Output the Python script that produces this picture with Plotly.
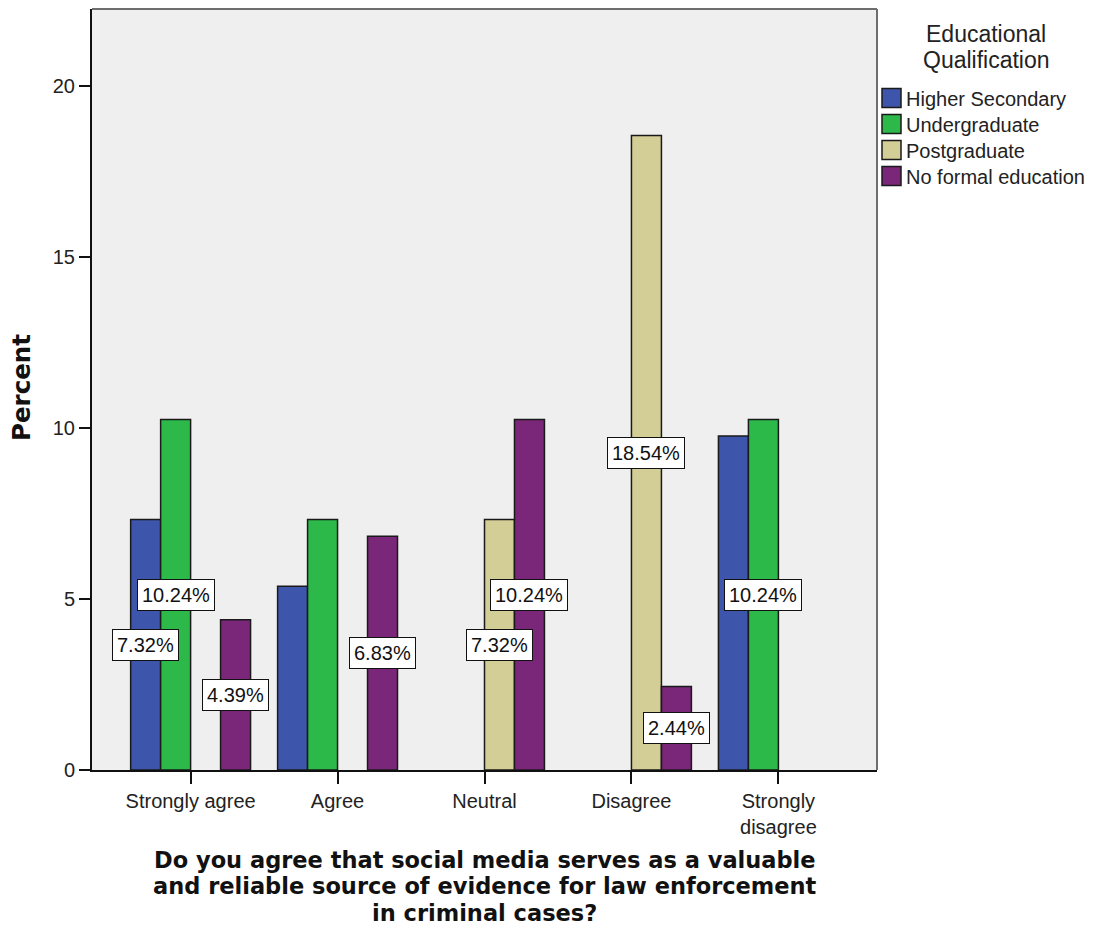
import plotly.graph_objects as go

# ---------------- data ----------------
categories = ["Strongly agree", "Agree", "Neutral", "Disagree", "Strongly<br>disagree"]
series_names = ["Higher Secondary", "Undergraduate", "Postgraduate", "No formal education"]
higher_secondary = [7.32, 5.37, None, None, 9.76]
undergraduate = [10.24, 7.32, None, None, 10.24]
postgraduate = [None, None, 7.32, 18.54, None]
no_formal = [4.39, 6.83, 10.24, 2.44, None]
# which bar labels are displayed (SPSS hid the overlapping ones)
hs_label_shown = [True, False, False, False, False]
ug_label_shown = [True, False, False, False, True]
pg_label_shown = [False, False, True, True, False]
nfe_label_shown = [True, True, True, True, False]
y_ticks = [0, 5, 10, 15, 20]
x_title_lines = ["Do you agree that social media serves as a valuable",
                 "and reliable source of evidence for law enforcement",
                 "in criminal cases?"]
y_title = "Percent"
legend_title_lines = ["Educational", "Qualification"]

# ---------------- style ----------------
colors = ["#3d56ab", "#2db84a", "#d3cd96", "#7b2779"]
BG = "#efefef"
TICK_FONT = "Liberation Sans, Arial, sans-serif"
BOLD_FONT = "DejaVu Sans, Verdana, sans-serif"
OFF = 8                      # default body margin of the html page
W, H = 1096 - 2 * OFF, 934 - 2 * OFF
PLOT_L, PLOT_R, PLOT_T, PLOT_B = 92, 877, 9, 770   # target page pixels
ML, MT = PLOT_L - OFF, PLOT_T - OFF
MR, MB = W - (PLOT_R - OFF), H - (PLOT_B - OFF)
PW, PH = PLOT_R - PLOT_L, PLOT_B - PLOT_T
BARGAP = 0.184

def px_x(px):
    return (px - PLOT_L) / PW

def px_y(py):
    return (PLOT_B - py) / PH

all_values = [higher_secondary, undergraduate, postgraduate, no_formal]
all_shown = [hs_label_shown, ug_label_shown, pg_label_shown, nfe_label_shown]

fig = go.Figure()
for name, vals, col in zip(series_names, all_values, colors):
    fig.add_trace(go.Bar(
        x=list(range(len(categories))), y=vals, name=name,
        marker=dict(color=col, line=dict(color="#1a1a1a", width=1.5)),
        showlegend=False, hoverinfo="x+y+name",
    ))

annotations = []
n = len(series_names)
slot = (1 - BARGAP) / n
for i, (vals, shown) in enumerate(zip(all_values, all_shown)):
    for c, (v, s) in enumerate(zip(vals, shown)):
        if v is None or not s:
            continue
        annotations.append(dict(
            x=c + (i - (n - 1) / 2) * slot, y=v / 2, xref="x", yref="y",
            text=f"{v:.2f}%", showarrow=False, xanchor="center", yanchor="middle",
            font=dict(family=TICK_FONT, size=20, color="#111"),
            bgcolor="white", bordercolor="#111", borderwidth=1, borderpad=4,
        ))

# x axis title lines (tight SPSS-like line spacing)
for line, py in zip(x_title_lines, [860, 886.3, 912.6]):
    annotations.append(dict(
        x=0.5, y=px_y(py), xref="paper", yref="paper", text=f"<b>{line}</b>",
        showarrow=False, xanchor="center", yanchor="middle",
        font=dict(family=BOLD_FONT, size=22.5, color="#111"),
    ))

# y axis title
annotations.append(dict(
    x=px_x(22), y=px_y(388), xref="paper", yref="paper", text=f"<b>{y_title}</b>",
    showarrow=False, xanchor="center", yanchor="middle", textangle=-90,
    font=dict(family=BOLD_FONT, size=24.5, color="#111"),
))

# legend title
for line, py in zip(legend_title_lines, [34, 60]):
    annotations.append(dict(
        x=px_x(986), y=px_y(py), xref="paper", yref="paper", text=line,
        showarrow=False, xanchor="center", yanchor="middle",
        font=dict(family=TICK_FONT, size=23, color="#222"),
    ))

shapes = []
# legend entries
for i, (name, col) in enumerate(zip(series_names, colors)):
    top = 88.5 + 26 * i
    shapes.append(dict(
        type="rect", xref="paper", yref="paper",
        x0=px_x(882), x1=px_x(901), y0=px_y(top), y1=px_y(top + 19),
        fillcolor=col, line=dict(color="#1a1a1a", width=1.5),
    ))
    annotations.append(dict(
        x=px_x(904), y=px_y(top + 10.5), xref="paper", yref="paper", text=name,
        showarrow=False, xanchor="left", yanchor="middle",
        font=dict(family=TICK_FONT, size=20, color="#222"),
    ))

# top and right frame (gray)
shapes.append(dict(type="line", xref="paper", yref="paper", x0=0, x1=1, y0=1, y1=1,
                   line=dict(color="#6e6e6e", width=2)))
shapes.append(dict(type="line", xref="paper", yref="paper", x0=1, x1=1, y0=0, y1=1,
                   line=dict(color="#6e6e6e", width=2)))

fig.update_layout(
    width=W, height=H, autosize=False,
    margin=dict(l=ML, r=MR, t=MT, b=MB, pad=0),
    paper_bgcolor="white", plot_bgcolor=BG,
    barmode="group", bargap=BARGAP, bargroupgap=0,
    showlegend=False,
    annotations=annotations, shapes=shapes,
    xaxis=dict(
        range=[-0.671, len(categories) - 1 + 0.671],
        tickmode="array", tickvals=list(range(len(categories))), ticktext=categories,
        ticks="outside", ticklen=12, tickwidth=2, tickcolor="#111",
        showline=True, linecolor="#111", linewidth=2,
        showgrid=False, zeroline=False,
        tickfont=dict(family=TICK_FONT, size=20, color="#222"),
    ),
    yaxis=dict(
        range=[0, 22.24], tickmode="array", tickvals=y_ticks,
        ticks="outside", ticklen=11, tickwidth=2, tickcolor="#111",
        showline=True, linecolor="#111", linewidth=2,
        showgrid=False, zeroline=False,
        tickfont=dict(family=TICK_FONT, size=20, color="#222"),
    ),
)

fig.write_html("out.html")
